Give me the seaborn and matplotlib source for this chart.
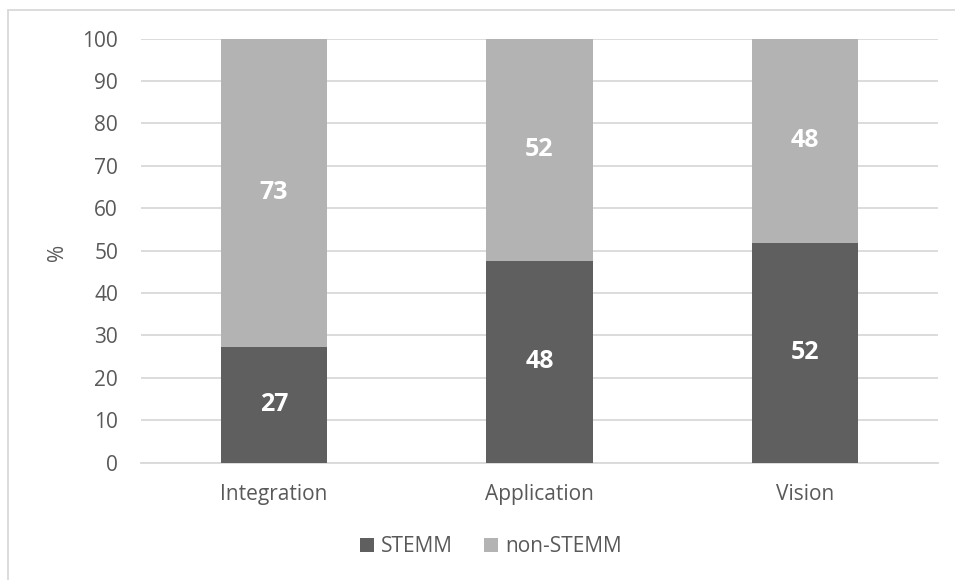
import matplotlib
matplotlib.use("Agg")
import matplotlib.pyplot as plt
import seaborn as sns
import pandas as pd
from matplotlib.patches import Patch
from matplotlib.lines import Line2D

categories = ["Integration", "Application", "Vision"]
stemm = [27.3, 47.6, 51.9]
non_stemm = [72.7, 52.4, 48.1]
stemm_labels = ["27", "48", "52"]
non_stemm_labels = ["73", "52", "48"]
yticks = [0, 10, 20, 30, 40, 50, 60, 70, 80, 90, 100]

sns.set_theme(style="white")
plt.rcParams["font.family"] = ["Open Sans", "DejaVu Sans"]

DARK = "#5f5f5f"
LIGHT = "#b3b3b3"
TXT = "#595959"

df = pd.DataFrame({
    "category": categories,
    "stemm": stemm,
    "total": [a + b for a, b in zip(stemm, non_stemm)],
})

fig = plt.figure(figsize=(9.55, 5.8), dpi=100)
ax = fig.add_axes([0.1476, 0.2022, 0.982 - 0.1476, 0.9336 - 0.2022])

sns.barplot(data=df, x="category", y="total", color=LIGHT, saturation=1,
            width=0.4, ax=ax, zorder=2, linewidth=0, edgecolor="none")
sns.barplot(data=df, x="category", y="stemm", color=DARK, saturation=1,
            width=0.4, ax=ax, zorder=3, linewidth=0, edgecolor="none")

for i in range(len(categories)):
    ax.text(i, stemm[i] / 2, stemm_labels[i], ha="center", va="center",
            color="white", fontsize=18, fontweight="bold", zorder=5)
    ax.text(i, stemm[i] + non_stemm[i] / 2, non_stemm_labels[i], ha="center",
            va="center", color="white", fontsize=18, fontweight="bold", zorder=5)

ax.set_ylim(0, 100)
ax.set_xlim(-0.5, 2.5)
ax.set_yticks(yticks)
ax.set_yticklabels([str(t) for t in yticks])
ax.yaxis.grid(True, color="#d9d9d9", linewidth=1.3, zorder=0)
ax.set_axisbelow(True)
for s in ["top", "right", "left"]:
    ax.spines[s].set_visible(False)
ax.spines["bottom"].set_color("#d9d9d9")
ax.spines["bottom"].set_linewidth(1.3)
ax.tick_params(axis="y", length=0, pad=16.5, labelsize=15, labelcolor=TXT)
ax.tick_params(axis="x", length=0, pad=15, labelsize=15, labelcolor=TXT)
ax.set_xlabel("")
ax.set_ylabel("")
fig.text(58 / 955, 1 - 252 / 580, "%", rotation=90, ha="center", va="center",
         fontsize=15, color=TXT)

handles = [Patch(facecolor=DARK, edgecolor="none", label="STEMM"),
           Patch(facecolor=LIGHT, edgecolor="none", label="non-STEMM")]
fig.legend(handles=handles, loc="center", bbox_to_anchor=(0.514, 1 - 547 / 580),
           ncol=2, frameon=False, fontsize=15, labelcolor=TXT,
           handlelength=0.65, handleheight=0.65, handletextpad=0.35, columnspacing=1.5)

# outer chart border (top and left visible)
fig.add_artist(Line2D([8 / 955, 1.0], [1 - 10 / 580, 1 - 10 / 580],
                      transform=fig.transFigure, color="#d9d9d9", linewidth=1.3))
fig.add_artist(Line2D([8 / 955, 8 / 955], [0, 1 - 10 / 580],
                      transform=fig.transFigure, color="#d9d9d9", linewidth=1.3))

fig.savefig("out.png", dpi=100)
